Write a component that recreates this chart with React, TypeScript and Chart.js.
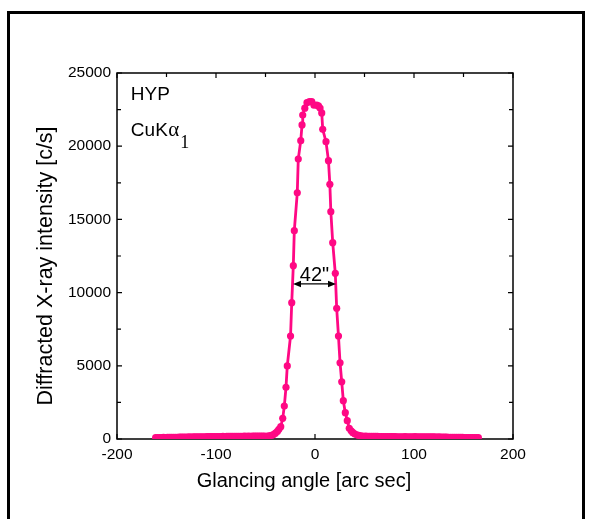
import { useEffect, useRef } from 'react';
import { Chart, registerables } from 'chart.js';

Chart.register(...registerables);

// ---- data ----
const leftTailAngles = [
  -161, -159, -157, -155, -153, -151, -149, -147, -145, -143,
  -141, -139, -137, -135, -133, -131, -129, -127, -125, -123,
  -121, -119, -117, -115, -113, -111, -109, -107, -105, -103,
  -101, -99, -97, -95, -93, -91, -89, -87, -85, -83,
  -81, -79, -77, -75, -73, -71, -69, -67, -65, -63,
  -61, -59, -57, -55, -53, -51, -48, -46, -44, -42, -40, -38, -36.5,
];
const leftTailIntensity = [
  90, 95, 100, 100, 105, 100, 110, 110, 115, 120,
  115, 120, 125, 130, 125, 130, 135, 140, 135, 140,
  145, 140, 150, 150, 155, 150, 160, 160, 165, 170,
  165, 170, 165, 170, 175, 170, 175, 180, 175, 180,
  185, 180, 175, 180, 185, 190, 185, 190, 185, 190,
  195, 190, 195, 200, 195, 200, 200, 215, 245, 300, 400, 520, 660,
];

const peakAngles = [-34.6, -32.6, -31.0, -29.3, -28.0, -24.7, -23.5, -21.9, -20.9, -17.9, -16.9, -14.4, -13.1, -12.4, -10.3, -8.1, -5.6, -3.3, -1.0, 1.7, 3.5, 5.1, 6.8, 7.8, 11.1, 13.6, 15.0, 16.0, 17.9, 20.5, 21.9, 23.7, 25.3, 27.0, 28.6, 30.6, 32.6, 34.6];
const peakIntensity = [840, 1410, 2250, 3530, 4990, 7035, 9310, 11840, 14230, 16820, 19120, 20380, 21450, 22130, 22600, 22970, 23050, 23040, 22800, 22810, 22750, 22610, 22270, 21150, 20310, 19010, 17400, 15530, 13410, 11320, 8930, 7035, 5210, 3910, 2620, 1800, 1250, 730];

const rightTailAngles = [
  36.5, 38, 40, 42, 44, 46, 48,
  51, 53, 55, 57, 59, 61, 63, 65, 67, 69,
  71, 73, 75, 77, 79, 81, 83, 85, 87, 89,
  91, 93, 95, 97, 99, 101, 103, 105, 107, 109,
  111, 113, 115, 117, 119, 121, 123, 125, 127, 129,
  131, 133, 135, 137, 139, 141, 143, 145, 147, 149,
  151, 153, 155, 157, 159, 161, 163, 165,
];
const rightTailIntensity = [
  560, 450, 360, 290, 245, 215, 200,
  190, 185, 185, 180, 180, 175, 175, 170, 170, 165,
  165, 170, 165, 160, 165, 160, 155, 155, 150, 155,
  160, 155, 150, 150, 155, 160, 155, 150, 150, 145,
  140, 145, 150, 145, 140, 140, 135, 140, 130, 130,
  125, 125, 120, 120, 115, 120, 110, 110, 105, 110,
  100, 100, 95, 100, 95, 90, 90, 90,
];

const xTickValues = [-200, -100, 0, 100, 200];
const xMinorTicks = [-150, -50, 50, 150];
const yTickValues = [0, 5000, 10000, 15000, 20000, 25000];
const yMinorTicks = [2500, 7500, 12500, 17500, 22500];

const sampleLabel = 'HYP';
const lineLabel = 'CuK';
const fwhmLabel = '42"';
const fwhmFrom = -22.2;
const fwhmTo = 21.2;
const fwhmLevel = 10590;

const xTitle = 'Glancing angle [arc sec]';
const yTitle = 'Diffracted X-ray intensity [c/s]';

const PINK = '#FF0884';
const SANS = "'Liberation Sans', Arial, sans-serif";
const SERIF = "'Liberation Serif', 'Times New Roman', serif";

export default function App() {
  const canvasRef = useRef<HTMLCanvasElement | null>(null);

  useEffect(() => {
    const canvas = canvasRef.current;
    if (!canvas) return;

    const angles = [...leftTailAngles, ...peakAngles, ...rightTailAngles];
    const intens = [...leftTailIntensity, ...peakIntensity, ...rightTailIntensity];
    const points = angles.map((a, i) => ({ x: a, y: intens[i] }));

    const framePlugin = {
      id: 'frameTicks',
      beforeDatasetsDraw(chart: any) {
        const { ctx, chartArea: ca, scales } = chart;
        const xs = scales.x;
        const ys = scales.y;
        ctx.save();
        ctx.strokeStyle = '#000';
        ctx.lineWidth = 1.5;
        ctx.strokeRect(ca.left, ca.top, ca.right - ca.left, ca.bottom - ca.top);
        const major = 5;
        const minor = 4;
        ctx.lineWidth = 1.2;
        ctx.beginPath();
        const xt = (v: number, len: number) => {
          const px = xs.getPixelForValue(v);
          ctx.moveTo(px, ca.bottom);
          ctx.lineTo(px, ca.bottom - len);
          ctx.moveTo(px, ca.top);
          ctx.lineTo(px, ca.top + len);
        };
        const yt = (v: number, len: number) => {
          const py = ys.getPixelForValue(v);
          ctx.moveTo(ca.left, py);
          ctx.lineTo(ca.left + len, py);
          ctx.moveTo(ca.right, py);
          ctx.lineTo(ca.right - len, py);
        };
        xTickValues.forEach((v) => xt(v, major));
        xMinorTicks.forEach((v) => xt(v, minor));
        yTickValues.forEach((v) => yt(v, major));
        yMinorTicks.forEach((v) => yt(v, minor));
        ctx.stroke();
        ctx.restore();
      },
      afterDraw(chart: any) {
        const { ctx, chartArea: ca, scales } = chart;
        const xs = scales.x;
        const ys = scales.y;
        ctx.save();
        ctx.fillStyle = '#000';
        ctx.strokeStyle = '#000';

        // sample labels
        ctx.textAlign = 'left';
        ctx.textBaseline = 'alphabetic';
        ctx.font = `19px ${SANS}`;
        const lx = xs.getPixelForValue(-186);
        ctx.fillText(sampleLabel, lx, ys.getPixelForValue(23160));
        const cuY = ys.getPixelForValue(20700);
        ctx.fillText(lineLabel, lx, cuY);
        const w = ctx.measureText(lineLabel).width;
        ctx.font = `21px ${SERIF}`;
        ctx.fillText('\u03b1', lx + w + 0.5, cuY);
        const aw = ctx.measureText('\u03b1').width;
        ctx.font = `18px ${SERIF}`;
        ctx.fillText('1', lx + w + aw + 1.5, cuY + 12);

        // FWHM arrow
        const ax1 = xs.getPixelForValue(fwhmFrom);
        const ax2 = xs.getPixelForValue(fwhmTo);
        const ay = ys.getPixelForValue(fwhmLevel);
        ctx.lineWidth = 1.2;
        ctx.beginPath();
        ctx.moveTo(ax1 + 4, ay);
        ctx.lineTo(ax2 - 4, ay);
        ctx.stroke();
        const head = 8;
        const hw = 3.2;
        ctx.beginPath();
        ctx.moveTo(ax1, ay);
        ctx.lineTo(ax1 + head, ay - hw);
        ctx.lineTo(ax1 + head, ay + hw);
        ctx.closePath();
        ctx.fill();
        ctx.beginPath();
        ctx.moveTo(ax2, ay);
        ctx.lineTo(ax2 - head, ay - hw);
        ctx.lineTo(ax2 - head, ay + hw);
        ctx.closePath();
        ctx.fill();
        ctx.font = `20px ${SANS}`;
        ctx.textAlign = 'center';
        ctx.fillText(fwhmLabel, (ax1 + ax2) / 2, ay - 3);

        // axis titles
        ctx.font = `20px ${SANS}`;
        ctx.textAlign = 'center';
        ctx.fillText(xTitle, (ca.left + ca.right) / 2 - 11, ca.bottom + 48);
        ctx.save();
        ctx.translate(52, (ca.top + ca.bottom) / 2 + 10);
        ctx.rotate(-Math.PI / 2);
        ctx.font = `21.5px ${SANS}`;
        ctx.fillText(yTitle, 0, 0);
        ctx.restore();

        ctx.restore();
      },
    };

    const chart = new Chart(canvas, {
      type: 'scatter',
      data: {
        datasets: [
          {
            data: points,
            showLine: true,
            borderColor: PINK,
            borderWidth: 2.8,
            backgroundColor: PINK,
            pointBackgroundColor: PINK,
            pointBorderWidth: 0,
            pointRadius: 3.6,
            pointHoverRadius: 3.6,
            tension: 0,
          } as any,
        ],
      },
      options: {
        animation: false,
        responsive: false,
        devicePixelRatio: 1,
        layout: { padding: { left: 0, right: 79, top: 73, bottom: 20 } },
        plugins: { legend: { display: false }, tooltip: { enabled: false }, title: { display: false } },
        events: [],
        scales: {
          x: {
            type: 'linear',
            min: -200,
            max: 200,
            afterBuildTicks: (s: any) => {
              s.ticks = xTickValues.map((v) => ({ value: v }));
            },
            afterFit: (s: any) => {
              s.height = 60;
            },
            ticks: { color: '#000', font: { family: SANS, size: 15.5 }, padding: 6, maxRotation: 0, autoSkip: false },
            grid: { display: false, drawTicks: false },
            border: { display: false },
          },
          y: {
            type: 'linear',
            min: 0,
            max: 25000,
            afterBuildTicks: (s: any) => {
              s.ticks = yTickValues.map((v) => ({ value: v }));
            },
            afterFit: (s: any) => {
              s.width = 117;
            },
            ticks: { color: '#000', font: { family: SANS, size: 15.5 }, padding: 6, autoSkip: false, callback: (v: any) => String(v) },
            grid: { display: false, drawTicks: false },
            border: { display: false },
          },
        },
      },
      plugins: [framePlugin],
    });

    return () => {
      chart.destroy();
    };
  }, []);

  return (
    <div style={{ position: 'absolute', left: 0, top: 0, width: 592, height: 519, overflow: 'hidden', background: '#fff' }}>
      <div
        style={{
          position: 'absolute',
          left: 7,
          top: 11,
          width: 578,
          height: 560,
          border: '3px solid #000',
          boxSizing: 'border-box',
        }}
      />
      <canvas ref={canvasRef} width={592} height={519} style={{ position: 'absolute', left: 0, top: 0, width: 592, height: 519 }} />
    </div>
  );
}
